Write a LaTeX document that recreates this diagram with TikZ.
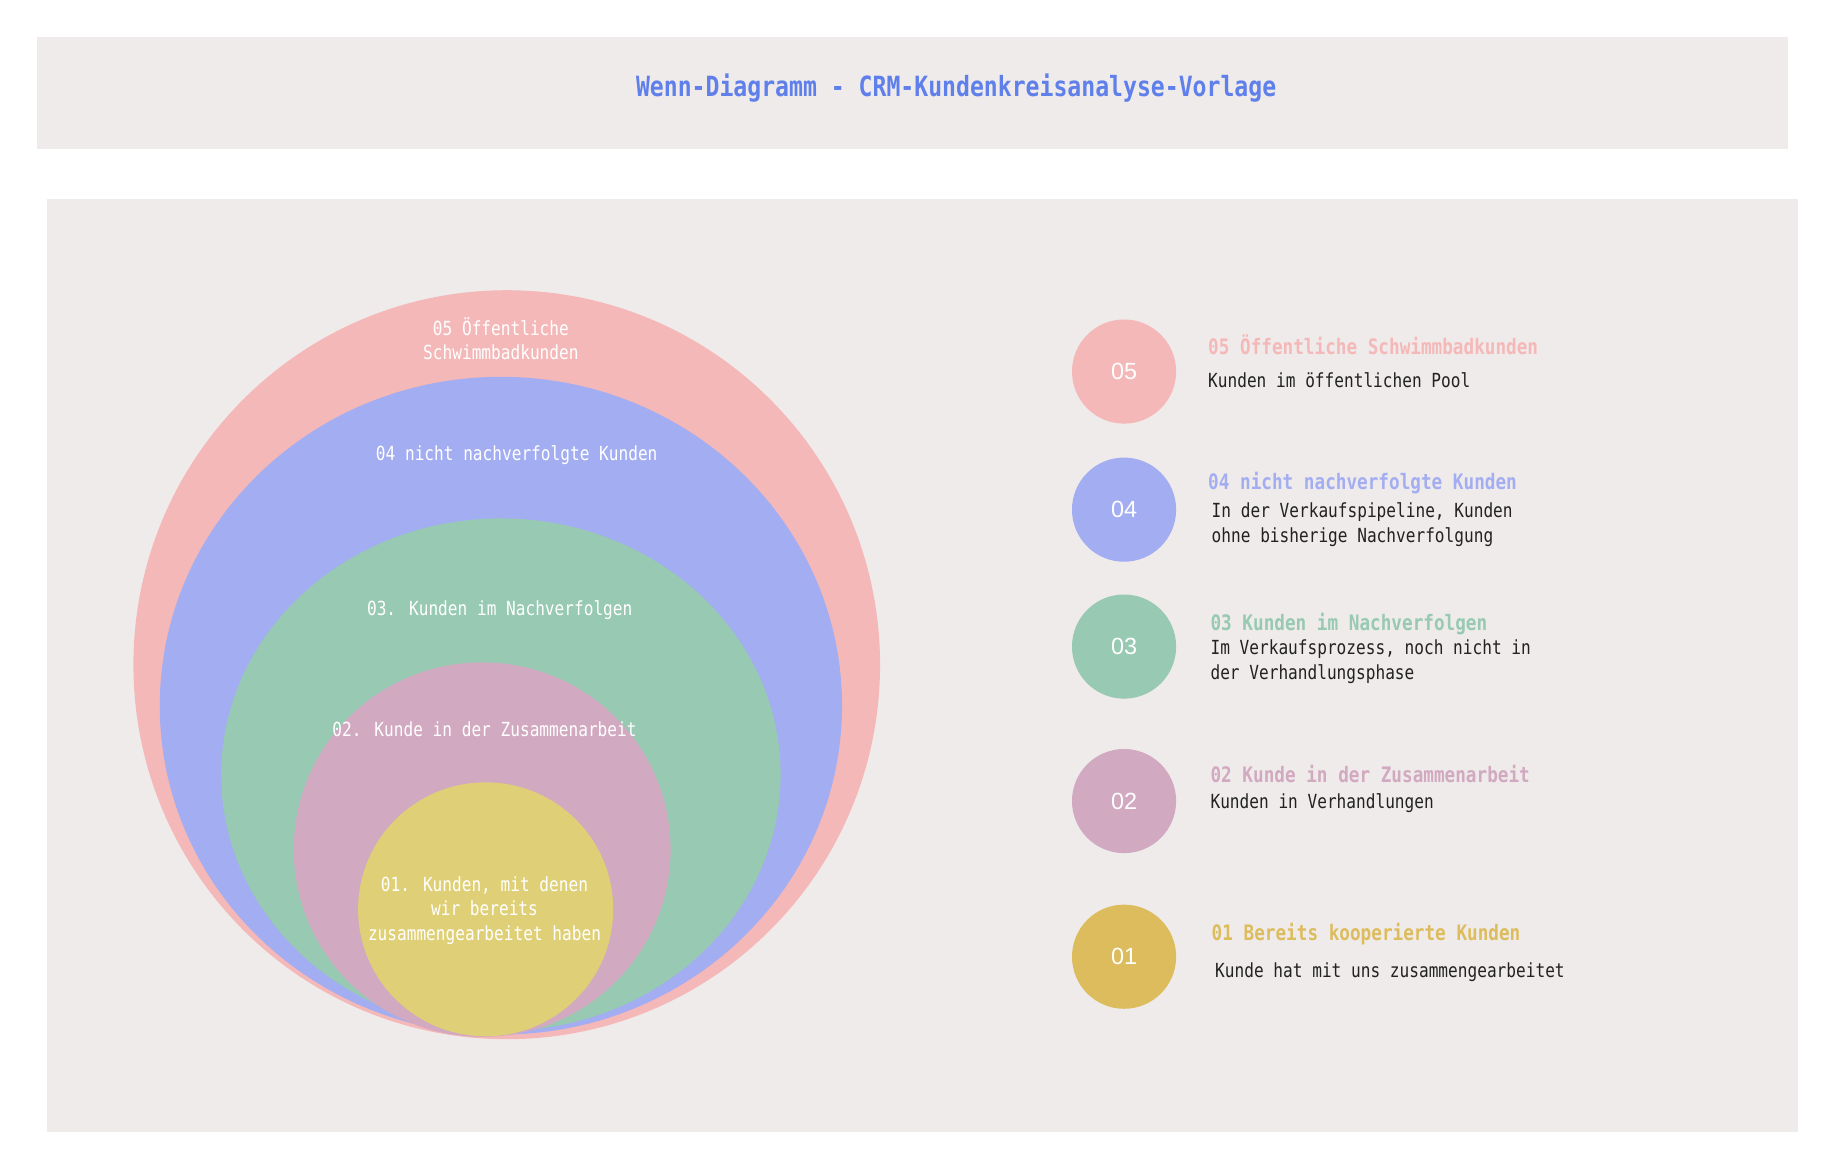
\documentclass[tikz,border=0pt]{standalone}
\usepackage{fontspec}
\setmainfont{Liberation Sans}
\newfontfamily\hanfont[FakeStretch=0.83]{DejaVu Sans Mono}
\definecolor{panel}{HTML}{EFEBEA}
\definecolor{cfive}{HTML}{F5B8B8}
\definecolor{cfour}{HTML}{A3ADF1}
\definecolor{cthree}{HTML}{97C9B3}
\definecolor{ctwo}{HTML}{D1A9C0}
\definecolor{cone}{HTML}{DFD077}
\definecolor{conel}{HTML}{DDBC5D}
\definecolor{ctitle}{HTML}{5F7FEA}
\definecolor{txt}{HTML}{222222}
\begin{document}
\begin{tikzpicture}[x=0.5pt,y=-0.5pt,
	ring/.style={text=white,inner sep=0pt,align=center,font=\hanfont\fontsize{8.3}{10.5}\selectfont},
	numdot/.style={circle,minimum size=44.5pt,inner sep=0pt,text=white,font=\fontsize{10}{12}\selectfont},
	head/.style={anchor=west,inner sep=0pt,font=\hanfont\bfseries\fontsize{9.1}{11}\selectfont},
	desc/.style={anchor=west,inner sep=0pt,align=left,text=txt,font=\hanfont\fontsize{8.3}{10.5}\selectfont}]
	\useasboundingbox (0,0) rectangle (1568,999);
	%panels
	\fill[panel] (32,32) rectangle (1528,127); %title band
	\fill[panel] (40,170) rectangle (1536,967); %main panel
	\node[font=\hanfont\bfseries\fontsize{11.9}{14}\selectfont,text=ctitle,inner sep=0pt] (title) at (817,75) {Wenn-Diagramm - CRM-Kundenkreisanalyse-Vorlage};
	
	%venn rings
	\fill[cfive] (433,568) ellipse [x radius=319, y radius=320]; %05
	\fill[cfour] (428,603) ellipse [x radius=291.5, y radius=281]; %04
	\fill[cthree] (428,662) ellipse [x radius=239, y radius=219]; %03
	\fill[ctwo] (412,726) ellipse [x radius=161, y radius=160]; %02
	\fill[cone] (415,777) ellipse [x radius=109, y radius=108.5]; %01
	
	%ring labels
	\node[ring] (rfive) at (428,289.5) {05 Öffentliche\\Schwimmbadkunden};
	\node[ring] (rfour) at (441.5,389) {04 nicht nachverfolgte Kunden};
	\node[ring] (rthree) at (427,521) {03. Kunden im Nachverfolgen};
	\node[ring] (rtwo) at (414,623) {02. Kunde in der Zusammenarbeit};
	\node[ring] (rone) at (414,778) {01. Kunden, mit denen\\wir bereits\\zusammengearbeitet haben};
	
	%legend dots
	\node[numdot,fill=cfive] (dfive) at (960.5,317.5) {05};
	\node[numdot,fill=cfour] (dfour) at (960.5,435.5) {04};
	\node[numdot,fill=cthree] (dthree) at (960.5,552.5) {03};
	\node[numdot,fill=ctwo] (dtwo) at (960.5,684.5) {02};
	\node[numdot,fill=conel] (done) at (960.5,817.5) {01};
	
	%legend headings
	\node[head,text=cfive] (hfive) at (1032,295) {05 Öffentliche Schwimmbadkunden};
	\node[head,text=cfour] (hfour) at (1032,413) {04 nicht nachverfolgte Kunden};
	\node[head,text=cthree] (hthree) at (1034,533) {03 Kunden im Nachverfolgen};
	\node[head,text=ctwo] (htwo) at (1034,661) {02 Kunde in der Zusammenarbeit};
	\node[head,text=conel] (hone) at (1035,798) {01 Bereits kooperierte Kunden};
	
	%legend texts
	\node[desc] (tfive) at (1032,325) {Kunden im öffentlichen Pool};
	\node[desc] (tfour) at (1035,448.5) {In der Verkaufspipeline, Kunden\\ohne bisherige Nachverfolgung};
	\node[desc] (tthree) at (1034,565.5) {Im Verkaufsprozess, noch nicht in\\der Verhandlungsphase};
	\node[desc] (ttwo) at (1034,686) {Kunden in Verhandlungen};
	\node[desc] (tone) at (1038,831) {Kunde hat mit uns zusammengearbeitet};
\end{tikzpicture}
\end{document}
